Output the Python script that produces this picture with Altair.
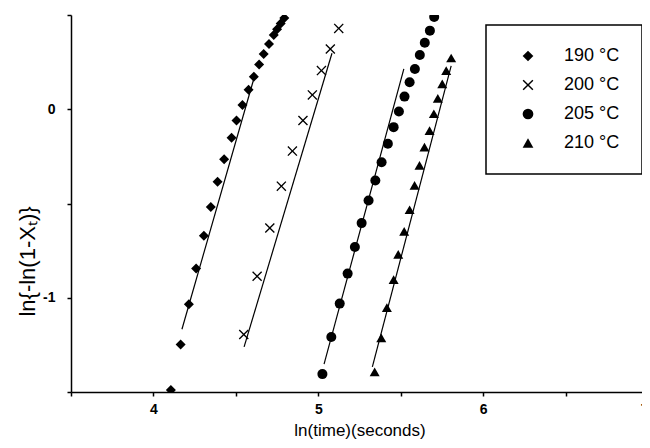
import altair as alt
import pandas as pd

series_labels = ["190 °C", "200 °C", "205 °C", "210 °C"]
# "×" drawn as a thin filled polygon so that it can be filled like the other symbols
CROSS = ("M0,-0.19L0.81,-1L1,-0.81L0.19,0L1,0.81L0.81,1L0,0.19"
         "L-0.81,1L-1,0.81L-0.19,0L-1,-0.81L-0.81,-1Z")
series_shapes = ["diamond", CROSS, "circle", "triangle-up"]

x190 = [4.106, 4.165, 4.215, 4.259, 4.306, 4.348, 4.389, 4.429, 4.474, 4.504,
        4.540, 4.577, 4.609, 4.641, 4.669, 4.701, 4.730, 4.750, 4.772, 4.794]
y190 = [-1.490, -1.248, -1.034, -0.845, -0.671, -0.519, -0.385, -0.265, -0.151, -0.060,
        0.023, 0.103, 0.173, 0.237, 0.293, 0.346, 0.394, 0.425, 0.455, 0.484]

x200 = [4.548, 4.629, 4.706, 4.776, 4.843, 4.907, 4.964, 5.019, 5.073, 5.124]
y200 = [-1.195, -0.886, -0.630, -0.408, -0.222, -0.060, 0.076, 0.205, 0.320, 0.429]

x205 = [5.025, 5.079, 5.130, 5.178, 5.222, 5.263, 5.305, 5.346, 5.384, 5.422,
        5.457, 5.489, 5.523, 5.554, 5.586, 5.616, 5.646, 5.677, 5.703]
y205 = [-1.405, -1.208, -1.031, -0.872, -0.731, -0.604, -0.484, -0.378, -0.281, -0.183,
        -0.095, -0.012, 0.067, 0.143, 0.214, 0.288, 0.353, 0.417, 0.490]

x210 = [5.342, 5.382, 5.416, 5.457, 5.485, 5.521, 5.554, 5.584, 5.614, 5.644,
        5.675, 5.701, 5.725, 5.752, 5.776, 5.806]
y210 = [-1.393, -1.213, -1.052, -0.904, -0.770, -0.648, -0.533, -0.404, -0.298, -0.201,
        -0.113, -0.024, 0.058, 0.135, 0.205, 0.272]

# linear fit lines: start / end points per series
fit_x_start = [4.173, 4.550, 5.035, 5.328]
fit_y_start = [-1.167, -1.261, -1.352, -1.367]
fit_x_end = [4.609, 5.083, 5.519, 5.806]
fit_y_end = [0.162, 0.297, 0.214, 0.230]

x_ticks = [3.5, 4.0, 4.5, 5.0, 5.5, 6.0, 6.5, 7.0]
y_ticks = [-1.5, -1.0, -0.5, 0.0, 0.5]

xs = [x190, x200, x205, x210]
ys = [y190, y200, y205, y210]

rows = []
for lab, xv, yv in zip(series_labels, xs, ys):
    for a, b in zip(xv, yv):
        rows.append({"series": lab, "x": a, "y": b})
pts = pd.DataFrame(rows)

lrows = []
for lab, x0, y0, x1, y1 in zip(series_labels, fit_x_start, fit_y_start, fit_x_end, fit_y_end):
    lrows.append({"series": lab, "x": x0, "y": y0})
    lrows.append({"series": lab, "x": x1, "y": y1})
lines = pd.DataFrame(lrows)

FONT = "Liberation Sans"
label_expr = "datum.value % 1 == 0 ? '' + datum.value : ''"

xscale = alt.Scale(domain=[3.5, 7], nice=False, zero=False)
yscale = alt.Scale(domain=[-1.5, 0.5], nice=False, zero=False)

xaxis = alt.Axis(title="ln(time)(seconds)", values=x_ticks, labelExpr=label_expr,
                 grid=False, tickSize=4, labelPadding=6, labelFontSize=14,
                 labelFontWeight="bold", titleFontSize=17, titleFontWeight="normal",
                 titleY=38, titleBaseline="middle")
yaxis = alt.Axis(title="ln{-ln(1-Xₜ)}", values=y_ticks, labelExpr=label_expr,
                 grid=False, tickSize=4, labelPadding=12, labelFontSize=14,
                 labelFontWeight="bold", titleFontSize=22, titleFontWeight="normal",
                 titleX=-44, titleY=246, titleAngle=270, titleAlign="center",
                 titleBaseline="middle")

fit = alt.Chart(lines).mark_line(color="black", strokeWidth=1.2, clip=True).encode(
    x=alt.X("x:Q", scale=xscale, axis=xaxis),
    y=alt.Y("y:Q", scale=yscale, axis=yaxis),
    detail="series:N",
)

points = alt.Chart(pts).mark_point(
    filled=True, fill="black", opacity=1, size=100, clip=True
).encode(
    x=alt.X("x:Q", scale=xscale, axis=xaxis),
    y=alt.Y("y:Q", scale=yscale, axis=yaxis),
    shape=alt.Shape(
        "series:N",
        scale=alt.Scale(domain=series_labels, range=series_shapes),
        legend=alt.Legend(
            title=None, orient="none", legendX=415, legendY=10,
            strokeColor="black", fillColor="white",
            padding=22, rowPadding=11, symbolOffset=11, labelOffset=27,
            labelFontSize=18, labelFont=FONT, labelColor="black",
            symbolSize=115, symbolFillColor="black", symbolOpacity=1,
        ),
    ),
)

chart = alt.layer(fit, points).properties(
    width=577, height=377,
    background="white",
    autosize=alt.AutoSizeParams(type="none"),
    padding={"left": 63, "top": 7, "right": -6, "bottom": 48},
).configure_view(stroke=None).configure_axis(
    domainColor="black", domainWidth=1.5, tickColor="black", tickWidth=1.5,
    labelColor="black", titleColor="black", labelFont=FONT, titleFont=FONT,
).configure_legend(strokeWidth=1.5)

chart.save("out.html", embed_options={"renderer": "svg", "actions": False})
